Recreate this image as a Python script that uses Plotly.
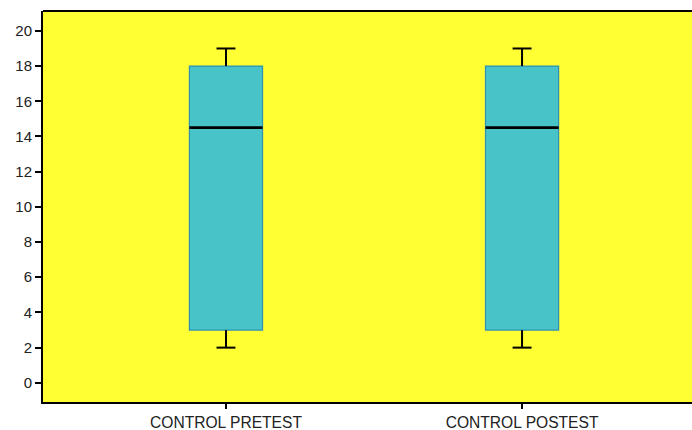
import plotly.graph_objects as go

categories = ["CONTROL PRETEST", "CONTROL POSTEST"]
lower_fence = [2, 2]
q1 = [3, 3]
median = [14.5, 14.5]
q3 = [18, 18]
upper_fence = [19, 19]

FILL = "#48C4C8"
EDGE = "#2F8FB5"
BG = "#FFFF33"
BOX_W = 0.247
CAP_W = 0.064

xs = list(range(len(categories)))

fig = go.Figure()
fig.add_trace(go.Box(
    x=xs, q1=q1, median=median, q3=q3,
    lowerfence=lower_fence, upperfence=upper_fence,
    width=BOX_W, fillcolor=FILL,
    line=dict(color=EDGE, width=1.2),
    whiskerwidth=0, showlegend=False, hoverinfo="skip",
))

# whiskers, caps and medians in black
wx, wy, mx, my = [], [], [], []
for i in xs:
    wx += [i, i, None, i, i, None]
    wy += [lower_fence[i], q1[i], None, q3[i], upper_fence[i], None]
    wx += [i - CAP_W / 2, i + CAP_W / 2, None, i - CAP_W / 2, i + CAP_W / 2, None]
    wy += [lower_fence[i], lower_fence[i], None, upper_fence[i], upper_fence[i], None]
    mx += [i - BOX_W / 2, i + BOX_W / 2, None]
    my += [median[i], median[i], None]

fig.add_trace(go.Scatter(x=wx, y=wy, mode="lines", line=dict(color="black", width=2),
                         showlegend=False, hoverinfo="skip"))
fig.add_trace(go.Scatter(x=mx, y=my, mode="lines", line=dict(color="black", width=2.6),
                         showlegend=False, hoverinfo="skip"))

FONT = "Liberation Sans, Arial, sans-serif"
fig.update_layout(
    width=692, height=430,
    margin=dict(l=43, r=0, t=11, b=28),
    paper_bgcolor="white", plot_bgcolor=BG,
    xaxis=dict(range=[-0.618, 1.574], tickmode="array", tickvals=xs, ticktext=categories,
               automargin=False,
               showgrid=False, zeroline=False, showline=True, linecolor="black", linewidth=2,
               mirror=False, ticks="outside", ticklen=5, tickwidth=1.5, tickcolor="black",
               tickfont=dict(family=FONT, size=15.6, color="#222222")),
    yaxis=dict(range=[-1.09, 21.13], tickmode="array", tickvals=list(range(0, 21, 2)),
               automargin=False,
               showgrid=False, zeroline=False, showline=True, linecolor="black", linewidth=2,
               mirror=False, ticks="outside", ticklen=6, tickwidth=2, tickcolor="black",
               tickfont=dict(family=FONT, size=15, color="#222222")),
    shapes=[dict(type="line", xref="paper", yref="paper", x0=0, x1=1, y0=1, y1=1,
                 line=dict(color="black", width=2))],
)

fig.write_html(
    "out.html",
    config={"displayModeBar": False},
    post_script="document.body.style.margin='0';",
)
